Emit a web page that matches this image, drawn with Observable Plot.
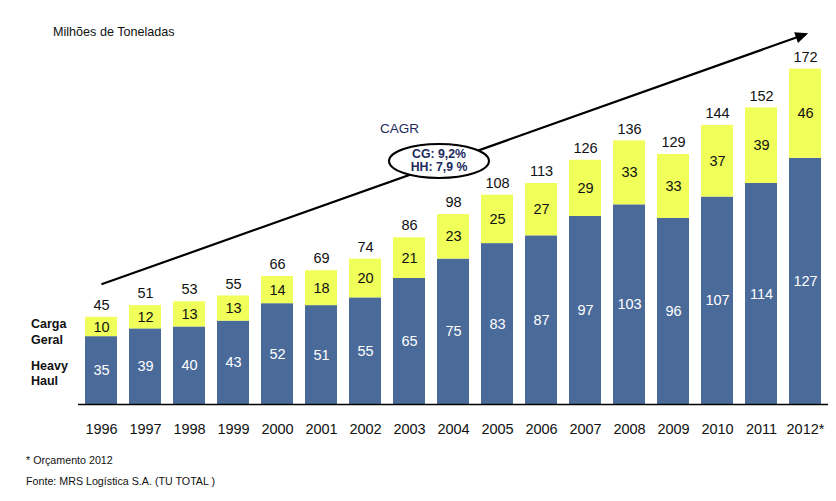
<!DOCTYPE html>
<html>
<head>
<meta charset="utf-8">
<script src="https://cdn.jsdelivr.net/npm/d3@7"></script>
<script src="https://cdn.jsdelivr.net/npm/@observablehq/plot@0.6"></script>
<style>
  body { margin: 0; background: #fff; font-family: "Liberation Sans", Arial, sans-serif; }
  #wrap { position: relative; width: 836px; height: 501px; overflow: hidden; }
  .lbl { position: absolute; white-space: nowrap; color: #111; line-height: 1; }
</style>
</head>
<body>
<div id="wrap">
  <div id="chart"></div>
  <div class="lbl" style="left:53px; top:26px; font-size:12.6px;">Milhões de Toneladas</div>
  <div class="lbl" style="left:31px; top:316px; font-size:12.5px; font-weight:bold; line-height:16px;">Carga<br>Geral</div>
  <div class="lbl" style="left:31px; top:359px; font-size:12.5px; font-weight:bold; line-height:15px;">Heavy<br>Haul</div>
  <div class="lbl" style="left:26px; top:455px; font-size:10.7px;">* Orçamento 2012</div>
  <div class="lbl" style="left:26px; top:476px; font-size:10.7px;">Fonte: MRS Logística S.A. (TU TOTAL )</div>
</div>
<script>
const years = ["1996","1997","1998","1999","2000","2001","2002","2003","2004","2005","2006","2007","2008","2009","2010","2011","2012*"];
const heavyHaul = [35,39,40,43,52,51,55,65,75,83,87,97,103,96,107,114,127];
const cargaGeral = [10,12,13,13,14,18,20,21,23,25,27,29,33,33,37,39,46];
const totals = [45,51,53,55,66,69,74,86,98,108,113,126,136,129,144,152,172];
const arrowLine = [{x1: "1996", y1: 62, x2: "2012*", y2: 191}];

const blue = "#4A6A9A";
const yellow = "#F0FF5A";

const rows = [];
years.forEach((y, i) => {
  rows.push({year: y, series: "HH", value: heavyHaul[i], mid: heavyHaul[i] / 2});
  rows.push({year: y, series: "CG", value: cargaGeral[i], mid: heavyHaul[i] + cargaGeral[i] / 2});
});
const tops = years.map((y, i) => ({year: y, top: heavyHaul[i] + cargaGeral[i], total: totals[i]}));

const plot = Plot.plot({
  width: 836,
  height: 501,
  marginLeft: 78,
  marginRight: 8,
  marginTop: 26,
  marginBottom: 97,
  style: {fontFamily: '"Liberation Sans", Arial, sans-serif', fontSize: "14.5px", color: "#111", background: "transparent"},
  x: {domain: years, paddingInner: 0.27, paddingOuter: 0.14, label: null},
  y: {domain: [0, 195], axis: null},
  color: {domain: ["HH", "CG"], range: [blue, yellow]},
  marks: [
    Plot.barY(rows, Plot.stackY({x: "year", y: "value", fill: "series", order: null})),
    Plot.ruleY([0], {stroke: "#000", strokeWidth: 1.6}),
    Plot.axisX({tickSize: 0, tickPadding: 19, fontSize: 14.5, label: null}),
    Plot.text(rows, {x: "year", y: "mid", text: "value", fontSize: 14.5, fill: d => d.series === "HH" ? "#fff" : "#111"}),
    Plot.text(tops, {x: "year", y: "top", text: "total", fontSize: 14.5, dy: -12, fill: "#111"}),
    Plot.link(arrowLine, {x1: "x1", y1: "y1", x2: "x2", y2: "y2", stroke: "#000", strokeWidth: 2.2, markerEnd: "arrow"})
  ]
});
document.getElementById("chart").appendChild(plot);

// Filled arrowhead
const svg = d3.select(plot);
svg.selectAll("marker").each(function() {
  const m = d3.select(this);
  m.selectAll("*").remove();
  m.attr("viewBox", "-8 -5 12 10").attr("markerWidth", 8).attr("markerHeight", 6.5).attr("refX", 0).attr("refY", 0);
  m.append("path").attr("d", "M-7,-4L2,0L-7,4Z").attr("fill", "#000").attr("stroke", "none");
});

// CAGR annotation
const g = svg.append("g").attr("font-family", '"Liberation Sans", Arial, sans-serif');
g.append("text").attr("x", 380).attr("y", 133).attr("text-anchor", "start").attr("font-size", 13.5).attr("fill", "#1c2a5c").text("CAGR");
g.append("ellipse").attr("cx", 439).attr("cy", 161).attr("rx", 50).attr("ry", 17)
  .attr("fill", "#fff").attr("stroke", "#000").attr("stroke-width", 2);
g.append("text").attr("x", 439).attr("y", 157.5).attr("text-anchor", "middle").attr("font-size", 12.3)
  .attr("font-weight", "bold").attr("fill", "#1c2a5c").text("CG: 9,2%");
g.append("text").attr("x", 439).attr("y", 171).attr("text-anchor", "middle").attr("font-size", 12.3)
  .attr("font-weight", "bold").attr("fill", "#1c2a5c").text("HH: 7,9 %");
</script>
</body>
</html>
